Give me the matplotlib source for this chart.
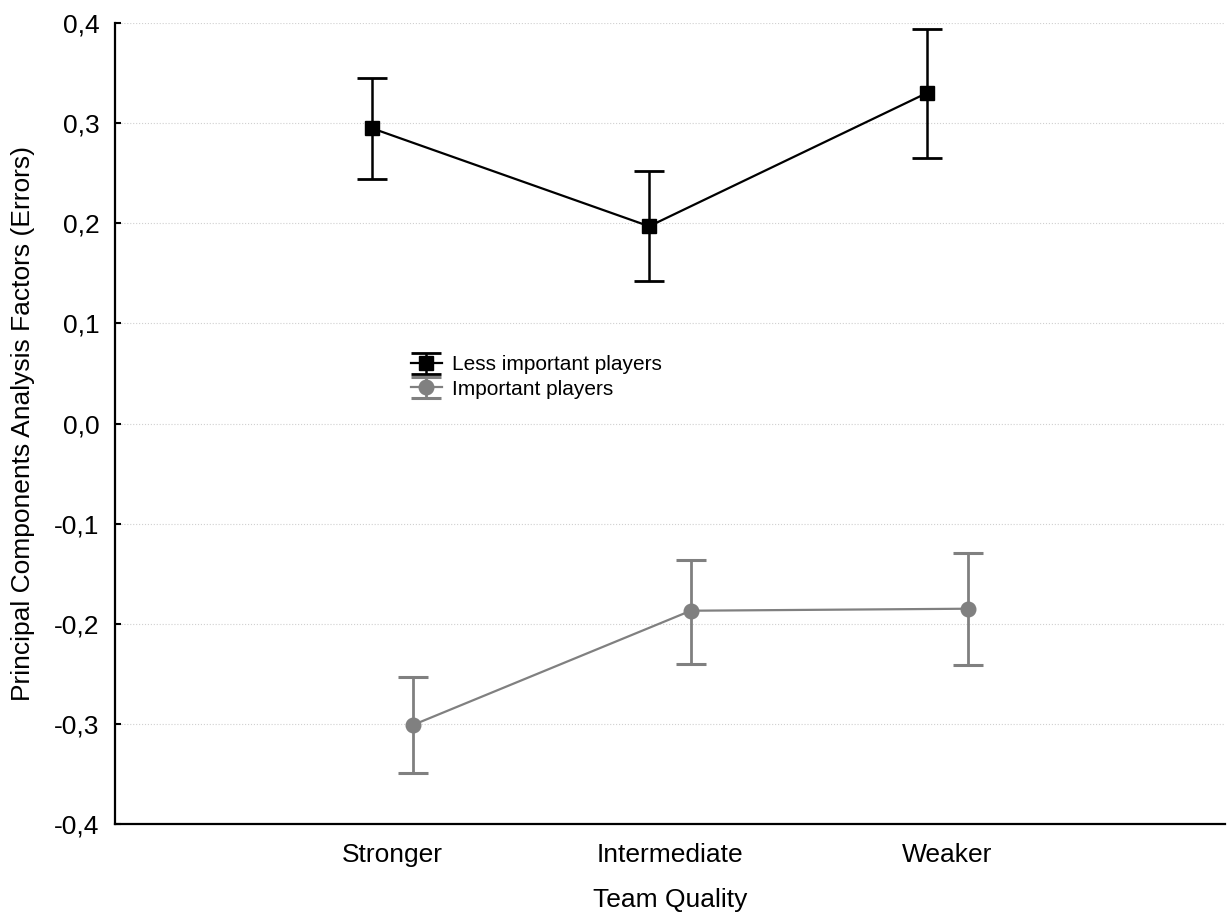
import matplotlib
matplotlib.use("Agg")
import matplotlib.pyplot as plt
import numpy as np

plt.rcParams['font.family'] = ['Liberation Sans', 'DejaVu Sans']

categories = ["Stronger", "Intermediate", "Weaker"]
less_mean = [0.295, 0.197, 0.330]
less_upper = [0.345, 0.252, 0.394]
less_lower = [0.244, 0.142, 0.265]
imp_mean = [-0.301, -0.187, -0.185]
imp_upper = [-0.253, -0.136, -0.129]
imp_lower = [-0.349, -0.240, -0.241]
yticks = [-0.4, -0.3, -0.2, -0.1, 0.0, 0.1, 0.2, 0.3, 0.4]
ytick_labels = ["-0,4", "-0,3", "-0,2", "-0,1", "0,0", "0,1", "0,2", "0,3", "0,4"]

fig = plt.figure(figsize=(12.32, 9.14), dpi=100)
ax = fig.add_axes([0.0933, 0.0985, 0.901, 0.8763])

x = np.arange(1, len(categories) + 1)
off = 0.075

lm = np.array(less_mean)
im = np.array(imp_mean)
ax.errorbar(x - off, lm, yerr=[lm - np.array(less_lower), np.array(less_upper) - lm],
            color='black', marker='s', markersize=10, linewidth=1.6, elinewidth=1.8,
            capsize=10.5, capthick=2, label="Less important players", zorder=3)
ax.errorbar(x + off, im, yerr=[im - np.array(imp_lower), np.array(imp_upper) - im],
            color='#808080', marker='o', markersize=10.5, linewidth=1.6, elinewidth=2,
            capsize=10.8, capthick=2.2, label="Important players", zorder=3)

ax.set_xlim(0, 4)
ax.set_ylim(-0.4, 0.4)
ax.set_xticks(x)
ax.set_xticklabels(categories, fontsize=19)
ax.tick_params(axis='x', length=0, pad=14)
ax.set_yticks(yticks)
ax.set_yticklabels(ytick_labels, fontsize=19)
ax.tick_params(axis='y', length=4, width=1.5, direction='in', pad=11)
ax.yaxis.grid(True, color='#d0d0d0', linestyle=':', linewidth=0.8)
ax.set_axisbelow(True)
for s in ['top', 'right']:
    ax.spines[s].set_visible(False)
for s in ['left', 'bottom']:
    ax.spines[s].set_linewidth(1.6)

ax.set_xlabel("Team Quality", fontsize=19, labelpad=15)
ax.set_ylabel("Principal Components Analysis Factors (Errors)", fontsize=19)
ax.yaxis.set_label_coords(-0.072, 0.5)

leg = ax.legend(loc='upper left', bbox_to_anchor=(0.2665, 0.585), frameon=False,
                fontsize=15, handlelength=1.5, handletextpad=0.5, borderpad=0,
                labelspacing=0.25, borderaxespad=0)

fig.savefig("out.png", dpi=100)
